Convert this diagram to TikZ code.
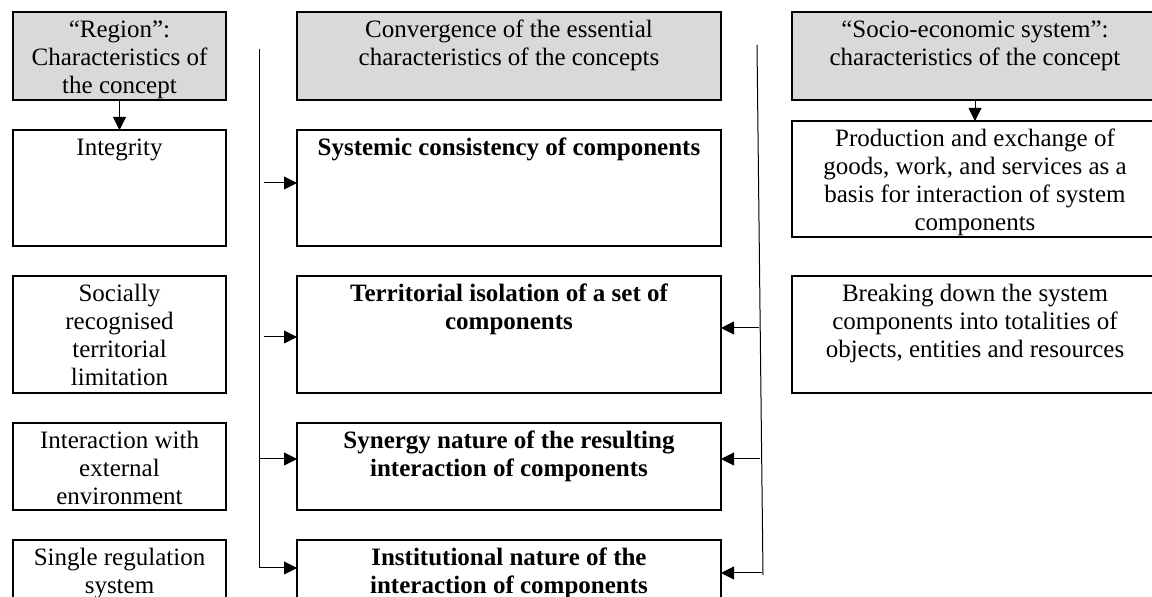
\documentclass[tikz,border=0pt]{standalone}
\usepackage{fontspec}
\setmainfont{Liberation Serif}
\usetikzlibrary{arrows.meta,positioning}
\definecolor{headgray}{RGB}{217,217,217}
\newcommand{\cellbody}[3]{\parbox[t][#2][t]{#1}{\centering\vspace*{3pt}\strut#3}}
\tikzset{
  cell/.style={
    draw=black,
    line width=0.6pt,
    fill=white,
    inner sep=0pt,
    outer sep=0pt,
    font=\fontsize{12.5}{14}\selectfont
  },
  headcell/.style={cell, fill=headgray},
  flow/.style={-{Triangle[length=6.5pt,width=6.5pt]}, line width=0.5pt, draw=black},
  bus/.style={line width=0.5pt, draw=black}
}
\begin{document}
\begin{tikzpicture}[x=0.5pt, y=-0.5pt, node distance=15pt and 35.5pt]
    \clip (0,0) rectangle (1152,597);
    \fill[white] (0,0) rectangle (1152,597);
    % headers
    \node[headcell, anchor=north west] (lhead) at (13,12) {\cellbody{106.5pt}{44pt}{“Region”:\\Characteristics of\\the concept}};
    \node[headcell, right=of lhead] (mhead) {\cellbody{212pt}{44pt}{Convergence of the essential\\characteristics of the concepts}};
    \node[headcell, right=of mhead] (rhead) {\cellbody{183pt}{44pt}{“Socio-economic system”:\\characteristics of the concept}};
    % region column
    \node[cell, below=of lhead] (l1) {\cellbody{106.5pt}{58pt}{Integrity}};
    \node[cell, below=of l1] (l2) {\cellbody{106.5pt}{58.5pt}{Socially\\recognised\\territorial\\limitation}};
    \node[cell, below=of l2] (l3) {\cellbody{106.5pt}{43.5pt}{Interaction with\\external\\environment}};
    \node[cell, below=of l3] (l4) {\cellbody{106.5pt}{45pt}{Single regulation\\system}};
    % convergence column
    \node[cell, below=of mhead] (m1) {\cellbody{212pt}{58pt}{\bfseries Systemic consistency of components}};
    \node[cell, below=of m1] (m2) {\cellbody{212pt}{58.5pt}{\bfseries Territorial isolation of a set of\\components}};
    \node[cell, below=of m2] (m3) {\cellbody{212pt}{43.5pt}{\bfseries Synergy nature of the resulting\\interaction of components}};
    \node[cell, below=of m3] (m4) {\cellbody{212pt}{45pt}{\bfseries Institutional nature of the\\interaction of components}};
    % socio-economic column
    \node[cell, below=10.5pt of rhead] (r1) {\cellbody{183pt}{58pt}{Production and exchange of\\goods, work, and services as a\\basis for interaction of system\\components}};
    \node[cell, below=19.5pt of r1] (r2) {\cellbody{183pt}{58.5pt}{Breaking down the system\\components into totalities of\\objects, entities and resources}};
    % connectors
    \draw[flow] (lhead) -- (l1);
    \draw[flow] (rhead) -- (r1);
    \coordinate (lbtop) at (259,49);
    \coordinate (lbbot) at (259,568);
    \coordinate (la1) at (264,183);
    \coordinate (la2) at (264,337);
    \coordinate (la3) at (259,459);
    \draw[flow] (lbtop) -- (lbbot) -- (lbbot -| m4.west);
    \draw[flow] (la1) -- (la1 -| m1.west);
    \draw[flow] (la2) -- (la2 -| m2.west);
    \draw[flow] (la3) -- (la3 -| m3.west);
    \coordinate (rbtop) at (757,45);
    \coordinate (rbbot) at (763,575);
    \coordinate (ra2) at (759,328);
    \coordinate (ra3) at (760,459);
    \coordinate (ra4) at (762,573);
    \draw[bus] (rbtop) -- (rbbot);
    \draw[flow] (ra2) -- (ra2 -| m2.east);
    \draw[flow] (ra3) -- (ra3 -| m3.east);
    \draw[flow] (ra4) -- (ra4 -| m4.east);
\end{tikzpicture}
\end{document}
